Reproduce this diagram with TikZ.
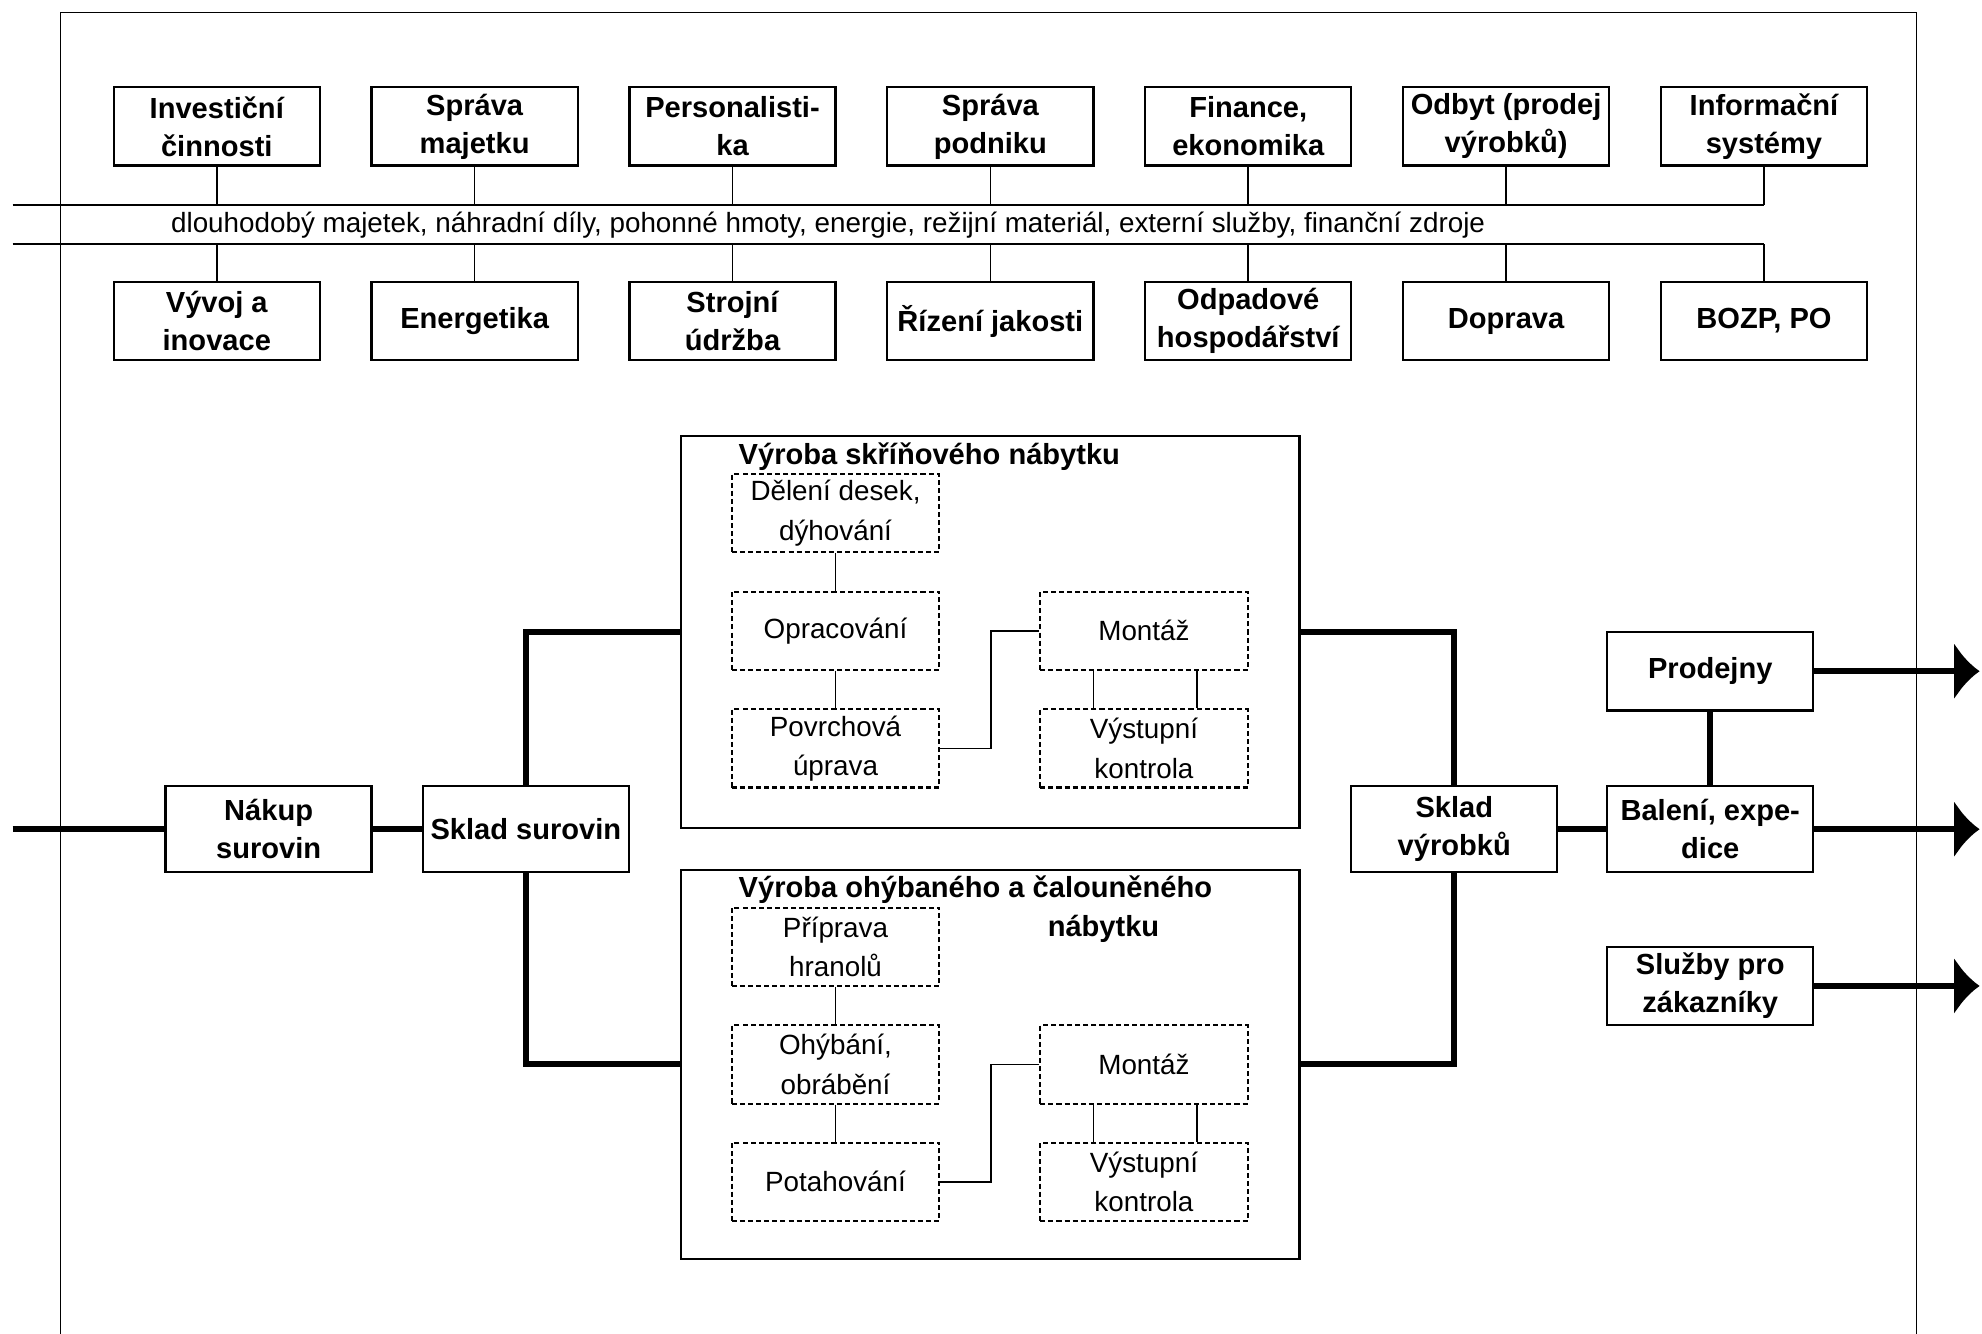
\documentclass[tikz,border=0pt]{standalone}
\usepackage{fontspec}
\setmainfont{Liberation Sans}
\usetikzlibrary{arrows.meta}

\begin{document}
\begin{tikzpicture}[x=0.5pt,y=-0.5pt,
  unit/.style={draw,line width=0.9pt,minimum width=81.5pt,minimum height=31pt,inner sep=1pt,align=center,font=\fontsize{11.5}{15}\selectfont\bfseries},
  sub/.style={draw,line width=0.8pt,dash pattern=on 2pt off 1.2pt,minimum width=82pt,minimum height=31pt,inner sep=1pt,align=center,font=\fontsize{11}{15.5}\selectfont},
  hall/.style={draw,line width=0.9pt,minimum width=244.5pt},
  title/.style={inner sep=0,font=\fontsize{11.5}{15}\selectfont\bfseries},
  flow/.style={line width=2.4pt},
  link/.style={line width=0.6pt}]
\useasboundingbox (0,0) rectangle (1568,1055);
\draw[link] (48,1055) -- (48,10) -- (1516,10) -- (1516,1055);

\foreach \i/\txt in {1/{Investiční\\činnosti},2/{Správa\\majetku},3/{Personalisti-\\ka},4/{Správa\\podniku},5/{Finance,\\ekonomika},6/{Odbyt (prodej\\výrobků)},7/{Informační\\systémy}}
  \node[unit] (top\i) at ({171.5+204*(\i-1)},100) {\txt};
\foreach \i/\txt in {1/{Vývoj a\\inovace},2/{Energetika},3/{Strojní\\údržba},4/{Řízení jakosti},5/{Odpadové\\hospodářství},6/{Doprava},7/{BOZP, PO}}
  \node[unit] (bot\i) at ({171.5+204*(\i-1)},254) {\txt};

\coordinate (busa) at (10,162);
\coordinate (busb) at (10,193);
\draw[link] (busa) -- (busa -| top7.south);
\draw[link] (busb) -- (busb -| bot7.north);
\foreach \i in {1,...,7} {
  \draw[link] (top\i.south) -- (top\i.south |- busa);
  \draw[link] (bot\i.north) -- (bot\i.north |- busb);
}
\node[anchor=west,inner sep=0,font=\fontsize{11}{12}\selectfont] (bustxt) at (135,178) {dlouhodobý majetek, náhradní díly, pohonné hmoty, energie, režijní materiál, externí služby, finanční zdroje};

\node[unit,minimum height=34pt] (nakup) at (212.5,656) {Nákup\\surovin};
\node[unit,minimum height=34pt] (sklads) at (416,656) {Sklad surovin};
\node[hall,minimum height=155pt] (hallA) at (783.5,500) {};
\node[hall,minimum height=154pt] (hallB) at (783.5,842) {};
\node[title,anchor=west] (titA) at (584,361) {Výroba skříňového nábytku};
\node[title,anchor=west] (titB) at (584,704) {Výroba ohýbaného a čalouněného};
\node[title] (titB2) at (873,735) {nábytku};

\node[sub] (delA) at (661,406) {Dělení desek,\\dýhování};
\node[sub] (oprA) at (661,499) {Opracování};
\node[sub] (povA) at (661,592) {Povrchová\\úprava};
\node[sub] (monA) at (905,499) {Montáž};
\node[sub] (vysA) at (905,592) {Výstupní\\kontrola};
\node[sub] (priB) at (661,749) {Příprava\\hranolů};
\node[sub] (ohyB) at (661,842) {Ohýbání,\\obrábění};
\node[sub] (potB) at (661,935) {Potahování};
\node[sub] (monB) at (905,842) {Montáž};
\node[sub] (vysB) at (905,935) {Výstupní\\kontrola};

\draw[link] (delA) -- (oprA) -- (povA);
\draw[link] (povA.east) -- ++(40,0) |- (monA.west);
\draw[link] ([xshift=-20pt]monA.south) -- ([xshift=-20pt]vysA.north);
\draw[link] ([xshift=21pt]monA.south) -- ([xshift=21pt]vysA.north);
\draw[link] (priB) -- (ohyB) -- (potB);
\draw[link] (potB.east) -- ++(40,0) |- (monB.west);
\draw[link] ([xshift=-20pt]monB.south) -- ([xshift=-20pt]vysB.north);
\draw[link] ([xshift=21pt]monB.south) -- ([xshift=21pt]vysB.north);

\node[unit,minimum height=34pt] (skladv) at (1150.5,656) {Sklad\\výrobků};
\node[unit,minimum height=34pt] (baleni) at (1353,656) {Balení, expe-\\dice};
\node[unit] (prodejny) at (1353,531) {Prodejny};
\node[unit] (sluzby) at (1353,780) {Služby pro\\zákazníky};

\coordinate (vstup) at (10,656);
\coordinate (okraj) at (1566,0);
\draw[flow] (vstup) -- (nakup) -- (sklads);
\draw[flow] (sklads.north) |- (hallA.west);
\draw[flow] (sklads.south) |- (hallB.west);
\draw[flow] (hallA.east) -| (skladv.north);
\draw[flow] (hallB.east) -| (skladv.south);
\draw[flow] (skladv) -- (baleni);
\draw[flow] (prodejny) -- (baleni);
\foreach \n in {prodejny,baleni,sluzby}
  \draw[flow,-{Latex[length=10pt,width=23pt]}] (\n.east) -- (\n.east -| okraj);
\end{tikzpicture}
\end{document}
